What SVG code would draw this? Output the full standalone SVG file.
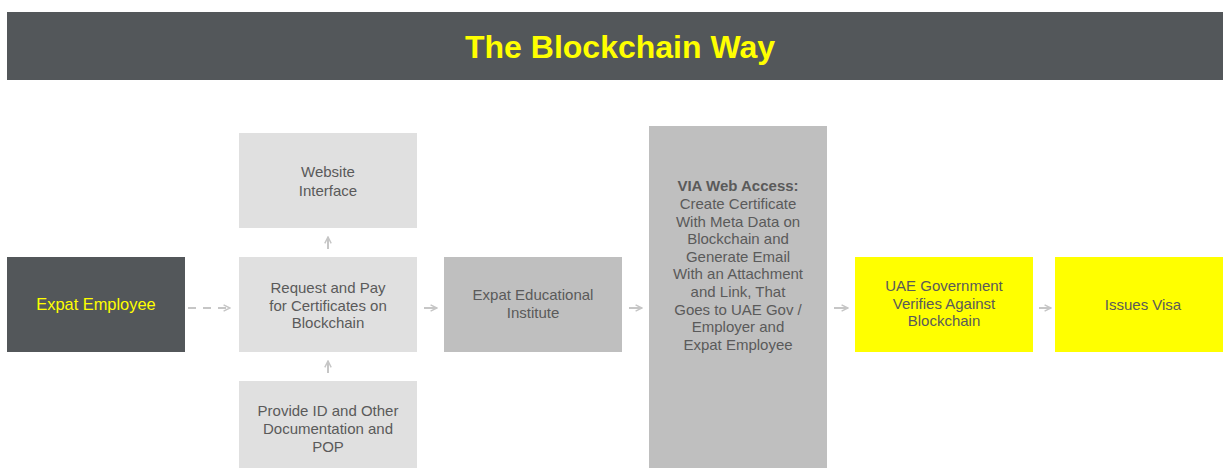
<svg xmlns="http://www.w3.org/2000/svg" width="1223" height="468" viewBox="0 0 1223 468">
  <defs>
    <marker id="arrow" viewBox="0 0 10 10" refX="9" refY="5" markerWidth="8" markerHeight="8" markerUnits="userSpaceOnUse" orient="auto">
      <path d="M1,1 L9,5 L1,9" fill="none" stroke="#c6c6c6" stroke-width="1.8"/>
    </marker>
    <style>
      .t { font-family: "Liberation Sans", Arial, sans-serif; font-size: 15px; fill: #5a5a5a; text-anchor: middle; }
      .light { fill: #e0e0e0; }
      .mid { fill: #bfbfbf; }
      .dark { fill: #53575a; }
      .yellow { fill: #ffff00; }
      .conn { stroke: #c6c6c6; stroke-width: 2; fill: none; marker-end: url(#arrow); }
    </style>
  </defs>
  <rect width="1223" height="468" fill="#ffffff"/>

  <!-- Header -->
  <g id="header">
    <rect x="7" y="12" width="1216" height="68" class="dark"/>
    <text x="620" y="58" font-family="Liberation Sans, Arial, sans-serif" font-size="32" font-weight="bold" fill="#ffff00" text-anchor="middle">The Blockchain Way</text>
  </g>

  <!-- Connectors -->
  <g id="connectors">
    <path d="M188,308 H230" class="conn" stroke-dasharray="8,7"/>
    <path d="M424,308 H437" class="conn"/>
    <path d="M629,308 H642" class="conn"/>
    <path d="M834,308 H848" class="conn"/>
    <path d="M1039,308 H1051" class="conn"/>
    <path d="M328,249 V237" class="conn"/>
    <path d="M328,373 V361" class="conn"/>
  </g>

  <g id="expat-employee">
    <rect x="7" y="257" width="178" height="95" class="dark"/>
    <text x="96" y="310" class="t" style="fill:#ffff00;font-size:16.4px">Expat Employee</text>
  </g>

  <g id="website-interface">
    <rect x="239" y="133" width="178" height="95" class="light"/>
    <text x="328" y="177" class="t">Website</text>
    <text x="328" y="196" class="t">Interface</text>
  </g>

  <g id="request-pay">
    <rect x="239" y="257" width="178" height="95" class="light"/>
    <text x="328" y="293" class="t">Request and Pay</text>
    <text x="328" y="311" class="t">for Certificates on</text>
    <text x="328" y="328" class="t">Blockchain</text>
  </g>

  <g id="provide-id">
    <rect x="239" y="381" width="178" height="87" class="light"/>
    <text x="328" y="416" class="t">Provide ID and Other</text>
    <text x="328" y="434" class="t">Documentation and</text>
    <text x="328" y="452" class="t">POP</text>
  </g>

  <g id="educational-institute">
    <rect x="444" y="257" width="178" height="95" class="mid"/>
    <text x="533" y="300" class="t">Expat Educational</text>
    <text x="533" y="318" class="t">Institute</text>
  </g>

  <g id="web-access">
    <rect x="649" y="126" width="178" height="342" class="mid"/>
    <text x="738" y="191" class="t" font-weight="bold">VIA Web Access:</text>
    <text x="738" y="209" class="t">Create Certificate</text>
    <text x="738" y="227" class="t">With Meta Data on</text>
    <text x="738" y="244" class="t">Blockchain and</text>
    <text x="738" y="262" class="t">Generate Email</text>
    <text x="738" y="279" class="t">With an Attachment</text>
    <text x="738" y="297" class="t">and Link, That</text>
    <text x="738" y="315" class="t">Goes to UAE Gov /</text>
    <text x="738" y="332" class="t">Employer and</text>
    <text x="738" y="350" class="t">Expat Employee</text>
  </g>

  <g id="uae-government">
    <rect x="855" y="257" width="178" height="95" class="yellow"/>
    <text x="944" y="291" class="t">UAE Government</text>
    <text x="944" y="309" class="t">Verifies Against</text>
    <text x="944" y="326" class="t">Blockchain</text>
  </g>

  <g id="issues-visa">
    <rect x="1055" y="257" width="168" height="95" class="yellow"/>
    <text x="1143" y="310" class="t">Issues Visa</text>
  </g>
</svg>
